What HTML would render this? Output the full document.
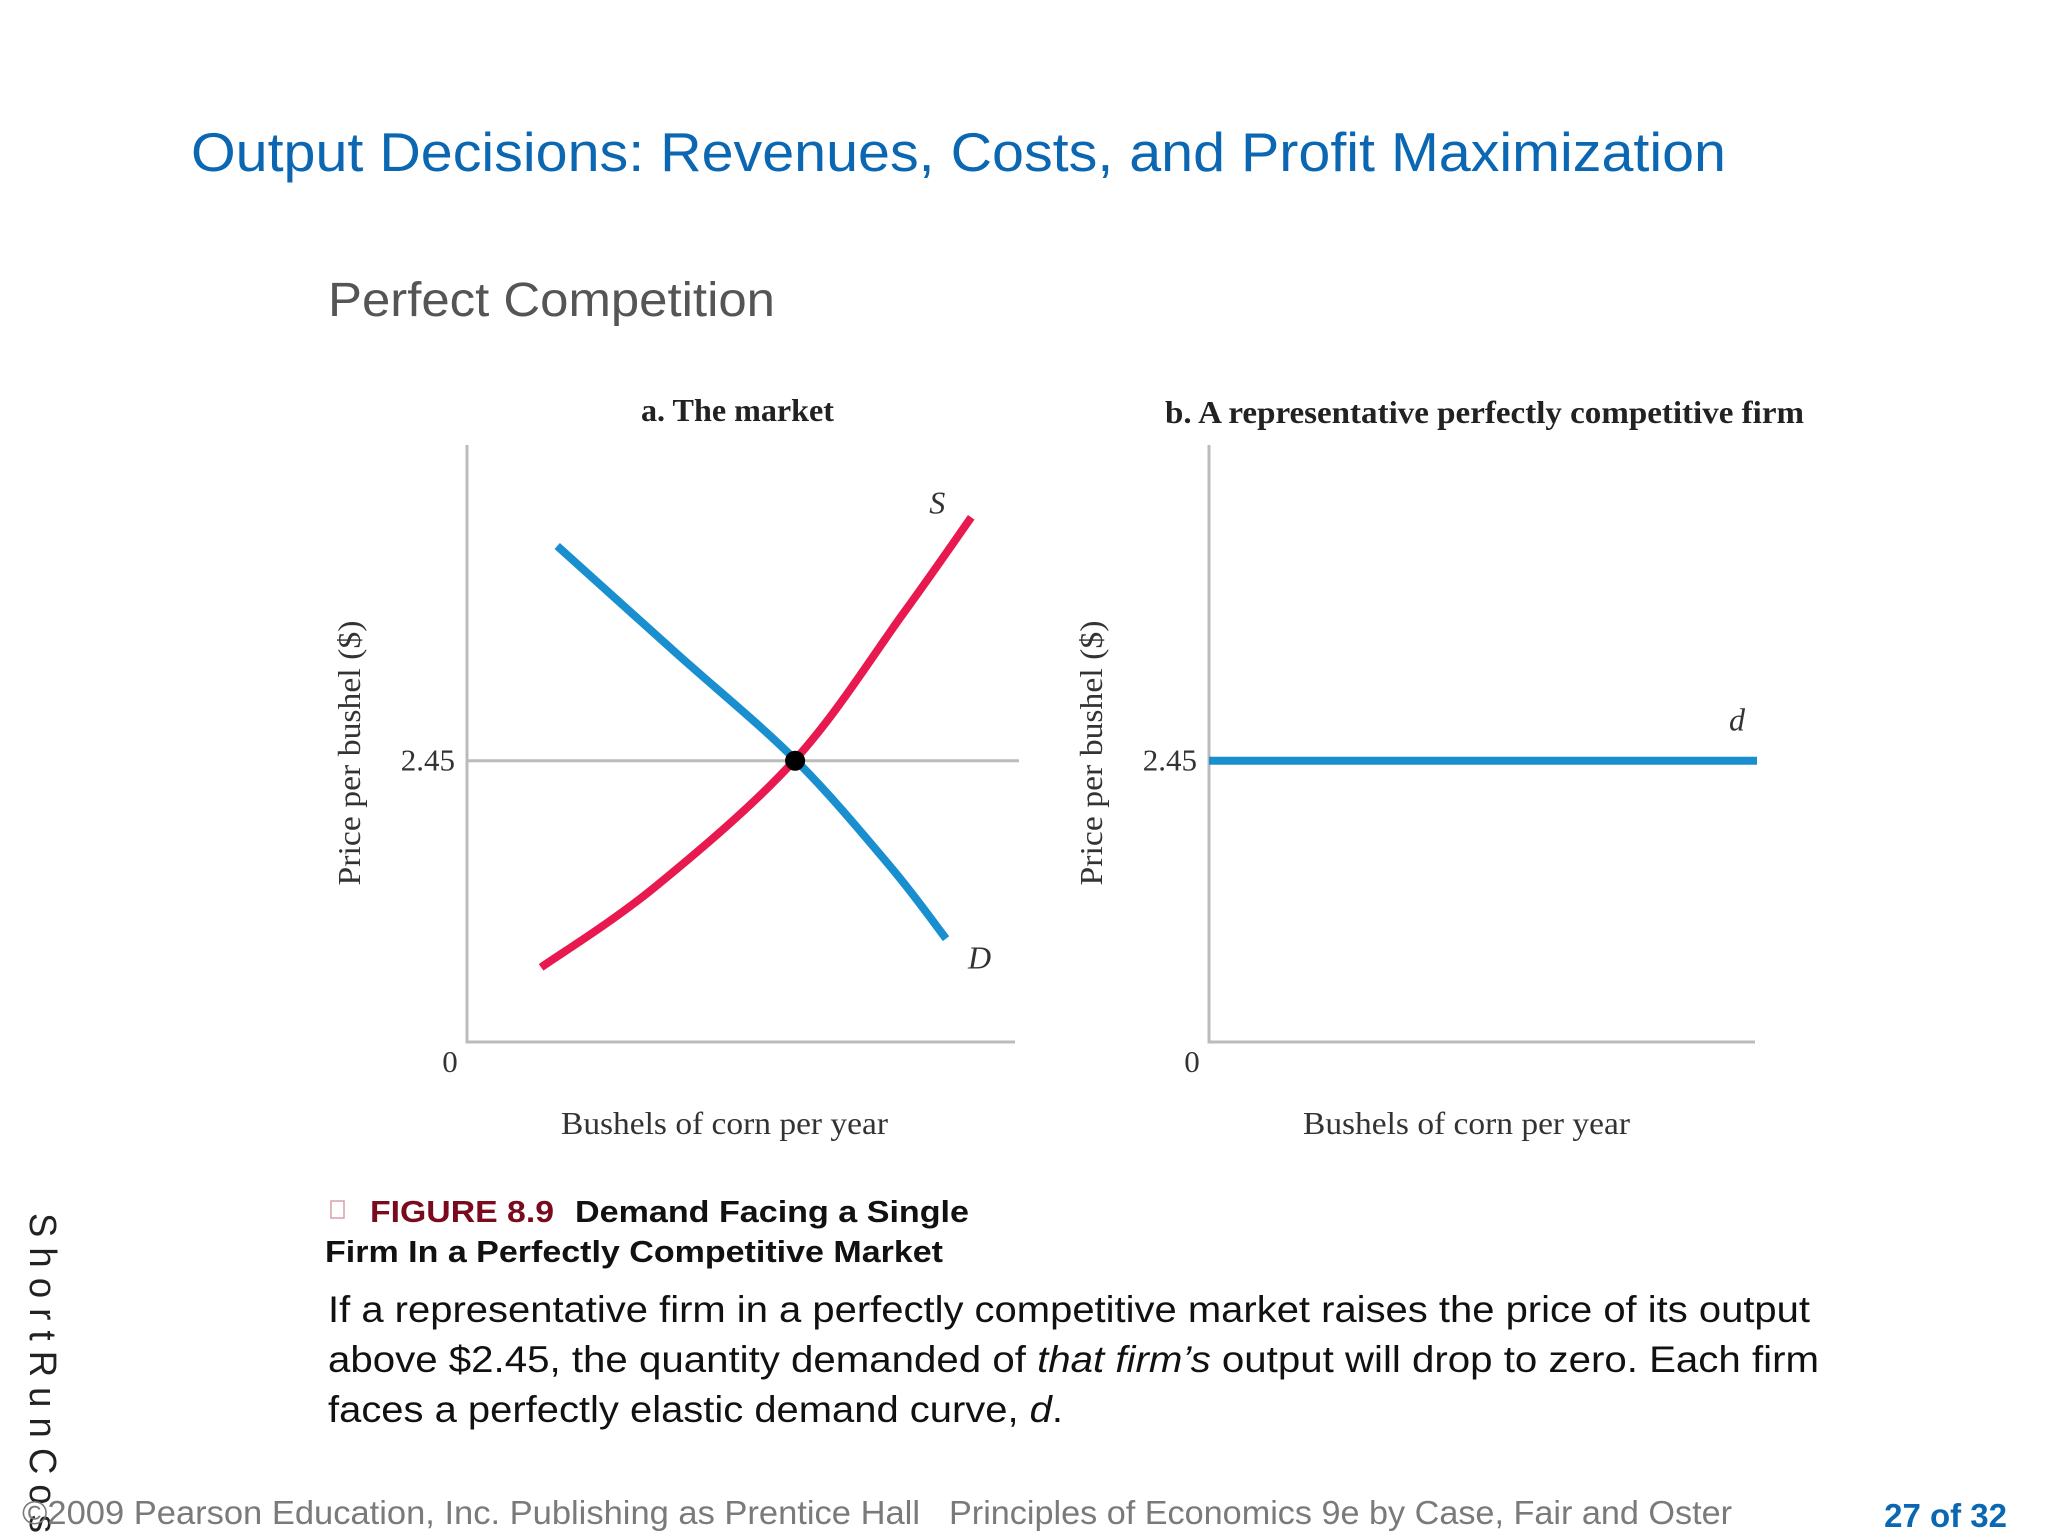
<!DOCTYPE html>
<html><head><meta charset="utf-8"><style>
html,body{margin:0;padding:0;background:#fff;}
svg{display:block;}
</style></head><body>
<svg width="2048" height="1536" viewBox="0 0 2048 1536" xmlns="http://www.w3.org/2000/svg" xml:space="preserve">
<text x="191" y="171" font-family="Liberation Sans, sans-serif" font-size="55" fill="#0b67b2" textLength="1535" lengthAdjust="spacingAndGlyphs">Output Decisions:  Revenues, Costs, and Profit Maximization</text>
<text x="328" y="316" font-family="Liberation Sans, sans-serif" font-size="48" fill="#555" textLength="447" lengthAdjust="spacingAndGlyphs">Perfect Competition</text>

<text x="641" y="421" font-family="Liberation Serif, serif" font-weight="bold" font-size="32" fill="#222" textLength="193" lengthAdjust="spacingAndGlyphs">a. The market</text>
<text x="1165" y="423" font-family="Liberation Serif, serif" font-weight="bold" font-size="32" fill="#222" textLength="639" lengthAdjust="spacingAndGlyphs">b. A representative perfectly competitive firm</text>

<g id="panelA"></g>
<g id="panelB"></g>

<rect x="331" y="1201" width="13" height="17" fill="none" stroke="#d9a0aa" stroke-width="1.5"/>
<text y="1222" font-family="Liberation Sans, sans-serif" font-weight="bold" font-size="31"><tspan x="370" fill="#7a0a1e" textLength="184" lengthAdjust="spacingAndGlyphs">FIGURE 8.9</tspan><tspan x="575" fill="#111" textLength="394" lengthAdjust="spacingAndGlyphs">Demand Facing a Single</tspan></text>
<text x="325" y="1262" font-family="Liberation Sans, sans-serif" font-weight="bold" font-size="31" fill="#111" textLength="618" lengthAdjust="spacingAndGlyphs">Firm In a Perfectly Competitive Market</text>
<g font-family="Liberation Sans, sans-serif" font-size="37" fill="#111"><text x="328" y="1322" textLength="1482" lengthAdjust="spacingAndGlyphs">If a representative firm in a perfectly competitive market raises the price of its output</text><text x="328" y="1372" textLength="1491" lengthAdjust="spacingAndGlyphs">above $2.45, the quantity demanded of <tspan font-style="italic">that firm’s</tspan> output will drop to zero.  Each firm</text><text x="328" y="1422" textLength="735" lengthAdjust="spacingAndGlyphs">faces a perfectly elastic demand curve, <tspan font-style="italic">d</tspan>.</text></g>
<text transform="translate(30,1213) rotate(90)" font-family="Liberation Sans, sans-serif" font-size="38" fill="#222" textLength="320" lengthAdjust="spacingAndGlyphs">S h o r t R u n C o s</text>
<text x="22" y="1524" font-family="Liberation Sans, sans-serif" font-size="33" fill="#7a7a7a" textLength="898" lengthAdjust="spacingAndGlyphs">©2009 Pearson Education, Inc. Publishing as Prentice Hall</text>
<text x="949" y="1524" font-family="Liberation Sans, sans-serif" font-size="33" fill="#7a7a7a" textLength="783" lengthAdjust="spacingAndGlyphs">Principles of Economics 9e by Case, Fair and Oster</text>
<text x="2007" y="1527" text-anchor="end" font-family="Liberation Sans, sans-serif" font-weight="bold" font-size="33" fill="#0b67b2">27 of 32</text>
</svg>
<script>
const demandQ = [16.8, 38.9, 61.1, 78.8, 89.2];
const demandP = [4.32, 3.39, 2.46, 1.53, 0.90];
const supplyQ = [13.8, 35.0, 61.1, 81.2, 93.9];
const supplyP = [0.65, 1.35, 2.46, 3.73, 4.57];
const eqQ = [61.1];
const eqP = [2.45];
const firmQ = [0, 100];
const firmP = [2.45, 2.45];
const priceTicks = ["0", "2.45"];
const priceTickVals = [0, 2.45];

const NS = "http://www.w3.org/2000/svg";
function mk(parent, tag, attrs){const e=document.createElementNS(NS,tag);for(const k in attrs)e.setAttribute(k,attrs[k]);parent.appendChild(e);return e;}
function spline(pts){
  let d="M"+pts[0][0]+","+pts[0][1];
  for(let i=0;i<pts.length-1;i++){
    const p0=pts[Math.max(0,i-1)],p1=pts[i],p2=pts[i+1],p3=pts[Math.min(pts.length-1,i+2)];
    const c1=[p1[0]+(p2[0]-p0[0])/6,p1[1]+(p2[1]-p0[1])/6];
    const c2=[p2[0]-(p3[0]-p1[0])/6,p2[1]-(p3[1]-p1[1])/6];
    d+=" C"+c1+" "+c2+" "+p2;
  }
  return d;
}
function panel(g, x0, unit, axisEnd, yBase, yTop, isA){
  const sx=q=>x0+q*unit;
  const sy=p=>yBase-p*(yBase-yTop)/5.2;
  const ax=mk(g,'path',{d:`M${x0},${yTop} L${x0},${yBase} L${axisEnd},${yBase}`,fill:'none',stroke:'#bbb','stroke-width':3});
  
  
  priceTickVals.forEach((v,i)=>{
    const t=mk(g,'text',{x:v===0?x0-17:x0-12,y:v===0?yBase+30:sy(v)+10,'text-anchor':v===0?'middle':'end','font-family':'Liberation Serif, serif','font-size':31,fill:'#333'});
    t.textContent=priceTicks[i];
    
    
  });
  const xt=mk(g,'text',{x:x0+94,y:1134,'font-family':'Liberation Serif, serif','font-size':32,fill:'#333',textLength:327,lengthAdjust:'spacingAndGlyphs'});
  xt.textContent='Bushels of corn per year';
  
  
  const yx=x0-107, yc=753;
  const yt=mk(g,'text',{x:yx,y:yc,'text-anchor':'middle','font-family':'Liberation Serif, serif','font-size':32,fill:'#333',textLength:265,lengthAdjust:'spacingAndGlyphs',transform:`rotate(-90 ${yx} ${yc})`});
  yt.textContent='Price per bushel ($)';
  
  
  if(isA){
    const gl=mk(g,'line',{x1:x0,x2:axisEnd+4,y1:sy(2.45),y2:sy(2.45),stroke:'#bbb','stroke-width':3});
    
    
    const dp=mk(g,'path',{d:spline(demandQ.map((q,i)=>[sx(q),sy(demandP[i])])),fill:'none',stroke:'#1a8fd0','stroke-width':8});
    
    
    const sp=mk(g,'path',{d:spline(supplyQ.map((q,i)=>[sx(q),sy(supplyP[i])])),fill:'none',stroke:'#e8194f','stroke-width':8});
    
    
    const c=mk(g,'circle',{cx:sx(eqQ[0]),cy:sy(eqP[0]),r:10,fill:'#000'});
    
    
    const sl=mk(g,'text',{x:sx(supplyQ[supplyQ.length-1])-42,y:sy(supplyP[supplyP.length-1])-4,'font-family':'Liberation Serif, serif','font-style':'italic','font-size':32,fill:'#333'});
    sl.textContent='S';
    
    
    const dl=mk(g,'text',{x:sx(demandQ[demandQ.length-1])+22,y:sy(demandP[demandP.length-1])+30,'font-family':'Liberation Serif, serif','font-style':'italic','font-size':32,fill:'#333'});
    dl.textContent='D';
    
    
  } else {
    const l=mk(g,'line',{x1:sx(firmQ[0]),x2:sx(firmQ[1]),y1:sy(firmP[0]),y2:sy(firmP[1]),stroke:'#1a8fd0','stroke-width':8});
    
    
    const dl=mk(g,'text',{x:sx(firmQ[1])-28,y:sy(firmP[1])-30,'font-family':'Liberation Serif, serif','font-style':'italic','font-size':32,fill:'#333'});
    dl.textContent='d';
    
    
  }
}
panel(document.getElementById('panelA'),467,5.37,1015,1042,445,true);
panel(document.getElementById('panelB'),1209,5.48,1755,1042,445,false);
</script>
</body></html>
